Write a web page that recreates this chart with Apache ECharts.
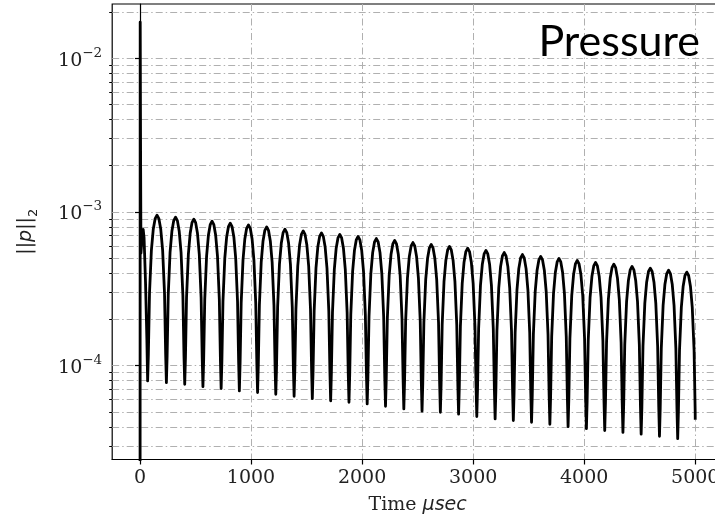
<!DOCTYPE html>
<html><head><meta charset="utf-8">
<script src="https://cdn.jsdelivr.net/npm/echarts@6/dist/echarts.min.js"></script>
<style>html,body{margin:0;padding:0;background:#fff}#c{width:715px;height:522px}</style>
</head><body><div id="c"></div>
<script>
// ---- data ----
const xTicks = [0, 1000, 2000, 3000, 4000, 5000];
const yMajorTicks = [1e-4, 1e-3, 1e-2];
const yMajorLabels = ['10|−4', '10|−3', '10|−2'];
const yMinorTicks = [3e-5, 4e-5, 5e-5, 6e-5, 7e-5, 8e-5, 9e-5,
  2e-4, 3e-4, 4e-4, 5e-4, 6e-4, 7e-4, 8e-4, 9e-4,
  2e-3, 3e-3, 4e-3, 5e-3, 6e-3, 7e-3, 8e-3, 9e-3, 2e-2];

// initial transient
const startTime = [0, 2, 6, 9, 20, 29, 37, 50, 62];
const startValue = [1e-7, 0.0172, 2.0e-3, 5.4e-4, 7.0e-4, 7.7e-4, 6.8e-4, 3.5e-4, 1.5e-4];

// oscillation minima (time in microseconds, value)
const dipTime = [69, 238, 403, 567, 731, 895, 1059, 1223, 1388, 1552, 1717, 1882, 2046, 2211, 2376,
  2540, 2705, 2869, 3033, 3198, 3362, 3526, 3691, 3855, 4020, 4185, 4349, 4513, 4678, 4842];
const dipValue = [7.96e-5, 7.75e-5, 7.56e-5, 7.30e-5, 7.09e-5, 6.85e-5, 6.68e-5, 6.51e-5, 6.32e-5, 6.10e-5,
  5.90e-5, 5.77e-5, 5.64e-5, 5.44e-5, 5.23e-5, 5.05e-5, 4.97e-5, 4.83e-5, 4.66e-5, 4.50e-5,
  4.39e-5, 4.28e-5, 4.15e-5, 4.01e-5, 3.89e-5, 3.78e-5, 3.68e-5, 3.58e-5, 3.47e-5, 3.35e-5];
// arch maxima following each minimum
const peakValue = [9.52e-4, 9.24e-4, 8.97e-4, 8.70e-4, 8.44e-4, 8.23e-4, 7.99e-4, 7.72e-4, 7.52e-4, 7.30e-4,
  7.13e-4, 6.92e-4, 6.71e-4, 6.52e-4, 6.32e-4, 6.14e-4, 5.96e-4, 5.81e-4, 5.61e-4, 5.44e-4,
  5.28e-4, 5.13e-4, 4.98e-4, 4.83e-4, 4.69e-4, 4.57e-4, 4.42e-4, 4.31e-4, 4.18e-4, 4.06e-4];
// arch profile read from one arch: fraction of period, value relative to arch maximum
const archFrac = [0.04, 0.1, 0.2, 0.3, 0.4, 0.5, 0.6, 0.7, 0.8, 0.9, 0.96];
const archRel = [0.125, 0.31, 0.59, 0.81, 0.95, 1, 0.95, 0.81, 0.59, 0.31, 0.125];
const endTime = 5000;
const endValue = 4.44e-5;

// ---- build series table ----
const seriesData = [];
startTime.forEach((t, i) => seriesData.push([t, startValue[i]]));
for (let k = 0; k < dipTime.length; k++) {
  const t0 = dipTime[k];
  const t1 = k + 1 < dipTime.length ? dipTime[k + 1] : t0 + (dipTime[k] - dipTime[k - 1]);
  seriesData.push([t0, dipValue[k]]);
  archFrac.forEach((f, j) => {
    const t = t0 + f * (t1 - t0);
    if (t < endTime) seriesData.push([t, peakValue[k] * archRel[j]]);
  });
}
seriesData.push([endTime, endValue]);

const gridLine = { show: true, lineStyle: { color: '#b0b0b0', width: 1, type: [7, 3, 1.5, 3] } };
const yMin = 2.45e-5, yMax = 0.02254;
const serif = 'DejaVu Serif';
const sans = 'DejaVu Sans';

const chart = echarts.init(document.getElementById('c'), null, { renderer: 'canvas' });
chart.setOption({
  animation: false,
  backgroundColor: '#fff',
  grid: { left: 112.2, top: 4, width: 610.8, height: 455.5, show: true, borderColor: '#000', borderWidth: 1.2,
    backgroundColor: 'transparent', containLabel: false, outerBoundsMode: 'none' },
  xAxis: [{
    type: 'value', min: -250, max: 5250,
    name: 'Time {it|μsec}', nameLocation: 'middle', nameGap: 36,
    nameTextStyle: { fontFamily: serif, fontSize: 19, color: '#222', rich: { it: { fontFamily: sans, fontStyle: 'italic', fontSize: 19, color: '#222' } } },
    axisLine: { show: true, onZero: false, lineStyle: { color: '#000', width: 1.2 } },
    axisTick: { show: true, length: 5, customValues: xTicks, lineStyle: { color: '#000', width: 1.2 } },
    axisLabel: { show: true, customValues: xTicks, fontFamily: serif, fontSize: 19, color: '#222', margin: 9,
      formatter: v => String(Math.round(v)), hideOverlap: false },
    splitLine: gridLine,
    minorTick: { show: false }
  }],
  yAxis: [{
    type: 'log', logBase: 10, min: yMin, max: yMax, position: 'left',
    name: '{n|||}{i|p}{n|||}{s|2}', nameLocation: 'middle', nameGap: 72, nameRotate: 90,
    nameTextStyle: { rich: {
      n: { fontFamily: sans, fontSize: 19, color: '#222', verticalAlign: 'top', padding: [0, 0, 5, 0] },
      i: { fontFamily: sans, fontStyle: 'italic', fontSize: 19, color: '#222', verticalAlign: 'top', padding: [0, 0, 5, 0] },
      s: { fontFamily: sans, fontSize: 13, color: '#222', verticalAlign: 'bottom' } } },
    axisLine: { show: true, lineStyle: { color: '#000', width: 1.2 } },
    axisTick: { show: true, length: 5, customValues: yMajorTicks, lineStyle: { color: '#000', width: 1.2 } },
    axisLabel: {
      show: true, customValues: yMajorTicks, margin: 10,
      formatter: v => {
        let idx = 0, best = 1e9;
        yMajorTicks.forEach((t, i) => { const d = Math.abs(Math.log10(t) - Math.log10(v)); if (d < best) { best = d; idx = i; } });
        const parts = yMajorLabels[idx].split('|');
        return '{b|' + parts[0] + '}{s|' + parts[1] + '}';
      },
      rich: {
        b: { fontFamily: serif, fontSize: 19, color: '#222', verticalAlign: 'bottom', padding: [5, 0, 0, 0] },
        s: { fontFamily: serif, fontSize: 13.5, color: '#222', verticalAlign: 'top' }
      }
    },
    splitLine: gridLine,
    minorTick: { show: false }
  }, {
    type: 'log', logBase: 10, min: yMin, max: yMax, position: 'left', offset: 0,
    axisLine: { show: false },
    axisTick: { show: true, length: 3, customValues: yMinorTicks, lineStyle: { color: '#000', width: 1 } },
    axisLabel: { show: false },
    splitLine: gridLine
  }],
  graphic: [{
    type: 'text', z: 100,
    style: { text: 'Pressure', x: 700, y: 64, align: 'right', verticalAlign: 'bottom', font: '43px Lato', fill: '#000' }
  }],
  series: [{
    type: 'line', xAxisIndex: 0, yAxisIndex: 0, data: seriesData,
    showSymbol: false, symbol: 'none', clip: true,
    lineStyle: { color: '#000', width: 2.8, join: 'round' }, z: 3
  }]
});
</script>
</body></html>
